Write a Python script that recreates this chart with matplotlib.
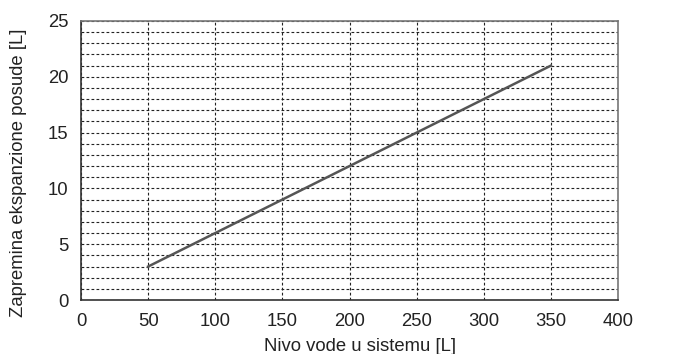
import matplotlib
matplotlib.use("Agg")
import matplotlib.pyplot as plt
import numpy as np

plt.rcParams['font.family'] = ['Liberation Sans', 'DejaVu Sans']

water_volume = [50, 100, 150, 200, 250, 300, 350]
vessel_volume = [3, 6, 9, 12, 15, 18, 21]

fig = plt.figure(figsize=(6.78, 3.54), dpi=100)
ax = fig.add_axes([0.1195, 0.1525, 0.792, 0.7882])

ax.plot(water_volume, vessel_volume, color='#555555', lw=1.8)

ax.set_xlim(0, 400)
ax.set_ylim(0, 25)
ax.set_xticks(np.arange(0, 401, 50))
ax.set_yticks(np.arange(0, 26, 5))
ax.set_yticks(np.arange(0, 26, 1), minor=True)
ax.tick_params(which='both', length=0, labelsize=13.3, colors='#222222', pad=9)

ax.grid(True, which='major', axis='x', color='#222222', ls=(0, (2.5, 2)), lw=0.8)
ax.grid(True, which='both', axis='y', color='#222222', ls=(0, (2.5, 2)), lw=0.8)

for side in ['left', 'bottom']:
    ax.spines[side].set_color('#333333')
    ax.spines[side].set_linewidth(1.2)
for side in ['right', 'top']:
    ax.spines[side].set_color('#777777')
    ax.spines[side].set_linewidth(1.2)

ax.set_xlabel('Nivo vode u sistemu [L]', fontsize=13.3, color='#222222')
ax.set_ylabel('Zapremina ekspanzione posude [L]', fontsize=13.3, color='#222222')
ax.xaxis.set_label_coords(0.52, -0.135)
ax.yaxis.set_label_coords(-0.101, 0.455)

fig.savefig('out.png', dpi=100)
